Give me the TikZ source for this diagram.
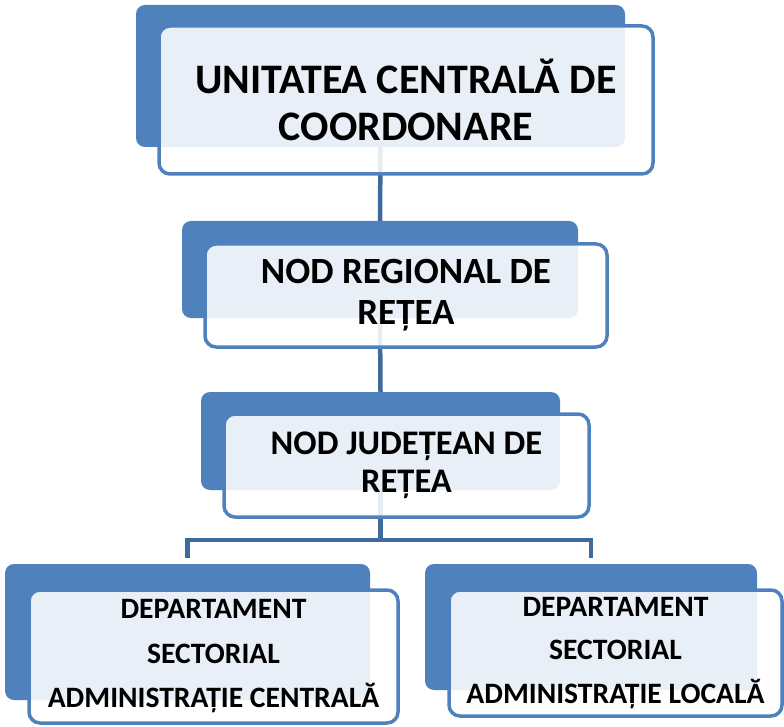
\documentclass[tikz,border=0pt]{standalone}
\usepackage{fontspec}
\setmainfont{Carlito}
\definecolor{albastru}{HTML}{4F81BD}
\definecolor{legatura}{HTML}{3E6A9C}
\tikzset{
  fundal/.style={fill=albastru, rounded corners=9pt, inner sep=0pt, minimum width=#1},
  cadru/.style={draw=albastru, line width=3.5pt, fill=white, fill opacity=0.88,
    text opacity=1, rounded corners=11pt, inner sep=0pt, align=center, minimum width=#1},
  linie/.style={draw=legatura, line width=4.5pt}
}
\begin{document}
\begin{tikzpicture}[x=1pt, y=-1pt]
    \useasboundingbox (0,0) rectangle (784,727);

    \node[fundal=489pt, minimum height=142pt] (OrgUccFund) at (380.5,76) {};
    \node[fundal=396pt, minimum height=97pt] (OrgRegFund) at (380,269.5) {};
    \node[fundal=359pt, minimum height=98pt] (OrgJudFund) at (380.5,441) {};
    \node[fundal=365pt, minimum height=136pt] (OrgDacFund) at (187.5,632) {};
    \node[fundal=332pt, minimum height=126pt] (OrgDalFund) at (591,627) {};

    \coordinate (OrgRamif) at (380.5,540);

    \draw[linie] (OrgUccFund.south) to (OrgRegFund.north);
    \draw[linie] (OrgRegFund.south) to (OrgJudFund.north);
    \draw[linie] (OrgJudFund.south) to (OrgRamif);
    \draw[linie] (OrgRamif) -| ([yshift=6pt]OrgDacFund.north);
    \draw[linie] (OrgRamif) -| ([yshift=6pt]OrgDalFund.north);

    \node[cadru=494pt, minimum height=148pt, font=\fontsize{42}{47}\selectfont\bfseries] (OrgUcc) at (406,100)
      {UNITATEA CENTRALĂ DE\\COORDONARE};
    \node[cadru=402pt, minimum height=103pt, font=\fontsize{37}{41}\selectfont\bfseries] (OrgReg) at (406,295.5)
      {NOD REGIONAL DE\\REȚEA};
    \node[cadru=365pt, minimum height=103pt, font=\fontsize{34.5}{38}\selectfont\bfseries] (OrgJud) at (406.5,465.5)
      {NOD JUDEȚEAN DE\\REȚEA};
    \node[cadru=369pt, minimum height=133pt, font=\fontsize{29.6}{44.5}\selectfont\bfseries] (OrgDac) at (213.5,656.5)
      {DEPARTAMENT\\SECTORIAL\\ADMINISTRAȚIE CENTRALĂ};
    \node[cadru=333pt, minimum height=126pt, font=\fontsize{29.6}{43.5}\selectfont\bfseries] (OrgDal) at (615.5,653)
      {DEPARTAMENT\\SECTORIAL\\ADMINISTRAȚIE LOCALĂ};
  \end{tikzpicture}
\end{document}
